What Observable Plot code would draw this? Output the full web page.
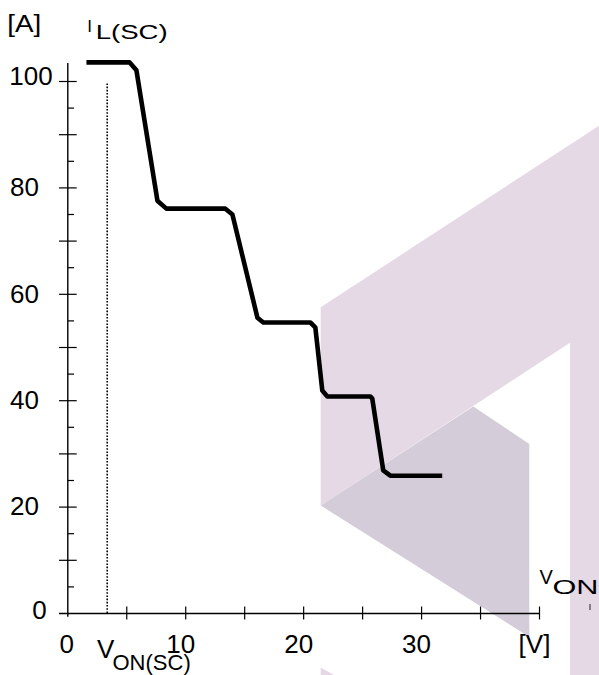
<!DOCTYPE html>
<html>
<head>
<meta charset="utf-8">
<script src="https://cdn.jsdelivr.net/npm/d3@7"></script>
<script src="https://cdn.jsdelivr.net/npm/@observablehq/plot@0.6"></script>
<style>
  html, body { margin: 0; padding: 0; background: #fff; }
  #wrap { position: relative; width: 599px; height: 675px; overflow: hidden; }
  #wm, #chart { position: absolute; left: 0; top: 0; }
  #chart svg { font-family: "Liberation Sans", Arial, Helvetica, sans-serif; }
</style>
</head>
<body>
<div id="wrap">
  <svg id="wm" width="599" height="675" aria-hidden="true">
    <polygon points="320.7,307.3 599,125.7 599,675 570,675 570,342.8 320.7,505.5" fill="#e5d9e6"/>
    <polygon points="320.7,505.5 473.3,406.5 529.3,443.9 529.3,637" fill="#d4ccd9"/>
    <polygon points="320.7,667.5 334,675 320.7,675" fill="#e5d9e6"/>
    <line x1="590" y1="604" x2="590" y2="610" stroke="#222" stroke-width="1"/>
  </svg>
  <div id="chart"></div>
</div>
<script>
// ---- data ----
const vOn = [1.58, 5.23, 5.82, 7.60, 8.36, 13.36, 13.96, 16.08, 16.58, 20.57, 20.99, 21.58, 22.01, 25.65, 25.82, 26.75, 27.35, 31.75];
const iL  = [103.6, 103.6, 102.1, 77.6, 76.1, 76.1, 75.0, 55.6, 54.7, 54.7, 53.8, 41.9, 40.8, 40.8, 40.4, 26.9, 25.9, 25.9];
const vOnSC = [3.34];          // dotted marker V_ON(SC)
const vOnSCTop = 99.6;         // dotted marker top (A)
const xLabelTicks = [10, 20, 30, 40];
const xZeroTick = [0];
const xTicks = [5, 10, 15, 20, 25, 30, 35, 40];
const yLabelTicks = [20, 40, 60, 80];
const yTopTick = [100];
const yZeroTick = [0];
const yMajorTicks = [10, 20, 30, 40, 50, 60, 70, 80, 90, 100];
const yMinorTicks = [5, 15, 25, 35, 45, 55, 65, 75, 85, 95];
const xUnit = "[V]";
const yUnit = "[A]";

const curve = vOn.map((v, k) => ({v, i: iL[k]}));

const FS = 26;
const ML = 67.3, MT = 81, MB = 62; // frame: x 67.3..539, y 81..613
const lbl = (t, anchor, x0, y0, px, py, size) =>
  Plot.text([t], {text: d => d, frameAnchor: anchor, textAnchor: "start", lineAnchor: "bottom",
                  dx: px - x0, dy: py - y0, fontSize: size});

const chart = Plot.plot({
  width: 599,
  height: 675,
  marginLeft: ML,
  marginRight: 60,
  marginTop: MT,
  marginBottom: MB,
  x: {domain: [0, 40], label: null},
  y: {domain: [0, 100], label: null},
  style: {background: "transparent", color: "#000", overflow: "visible"},
  marks: [
    // axis lines
    Plot.ruleX([0], {y1: 100, y2: 0, insetTop: -18, insetBottom: -3.7, stroke: "#000", strokeWidth: 1.4}),
    Plot.ruleY([0], {x1: 0, x2: 40, insetLeft: -8.3, stroke: "#000", strokeWidth: 1.4}),
    // y ticks
    Plot.ruleY(yMajorTicks, {x1: 0, x2: 0, insetLeft: -8.3, insetRight: -9.4, stroke: "#000", strokeWidth: 1.2}),
    Plot.ruleY(yMinorTicks, {x1: 0, x2: 0, insetLeft: 0.7, insetRight: -6.7, stroke: "#000", strokeWidth: 1.2}),
    // x ticks
    Plot.ruleX(xTicks, {y1: 0, y2: 0, insetTop: -6.5, insetBottom: -6.5, stroke: "#000", strokeWidth: 1.2}),
    // y tick labels (left-aligned like the reference)
    Plot.axisY(yLabelTicks, {tickSize: 0, tickPadding: ML - 9.5, textAnchor: "start", fontSize: FS, label: null}),
    Plot.axisY(yTopTick, {tickSize: 0, tickPadding: ML - 8.8, textAnchor: "start", dy: -5, fontSize: FS, label: null}),
    Plot.axisY(yZeroTick, {tickSize: 0, tickPadding: ML - 46.2, dy: -3, fontSize: FS, label: null}),
    // x tick labels
    Plot.axisX(xZeroTick, {tickSize: 0, tickPadding: 21.5, fontSize: FS, dx: -1, label: null}),
    Plot.axisX(xLabelTicks, {tickSize: 0, tickPadding: 21.5, fontSize: FS, dx: -5, label: null,
      tickFormat: d => d === 40 ? xUnit : String(d)}),
    // dotted V_ON(SC) marker
    Plot.ruleX(vOnSC, {y1: 0, y2: vOnSCTop, stroke: "#000", strokeWidth: 1.6, strokeDasharray: "1.6,1.6"}),
    // the curve
    Plot.line(curve, {x: "v", y: "i", stroke: "#000", strokeWidth: 4.6, strokeLinejoin: "round", strokeLinecap: "butt"}),
    // labels
    lbl(yUnit, "top-left", ML, MT, 6.7, 31.7, 23),
    lbl("I", "top-left", ML, MT, 86.7, 31.7, 17),
    lbl("L(SC)", "top-left", ML, MT, 95.2, 38.3, 20),
    lbl("V", "bottom-left", ML, 613, 539, 583.5, 20),
    lbl("ON", "bottom-left", ML, 613, 552, 593.5, 21),
    lbl("V", "bottom-left", ML, 613, 96.5, 657, FS),
    lbl("ON(SC)", "bottom-left", ML, 613, 112, 669.5, 22)
  ]
});
// horizontally stretched lettering as in the reference
const stretch = {"[A]": 34, "L(SC)": 72, "ON": 46};
d3.select(chart).selectAll("text").each(function () {
  const w = stretch[this.textContent];
  if (w) { this.setAttribute("textLength", w); this.setAttribute("lengthAdjust", "spacingAndGlyphs"); }
});
document.getElementById("chart").appendChild(chart);
</script>
</body>
</html>
